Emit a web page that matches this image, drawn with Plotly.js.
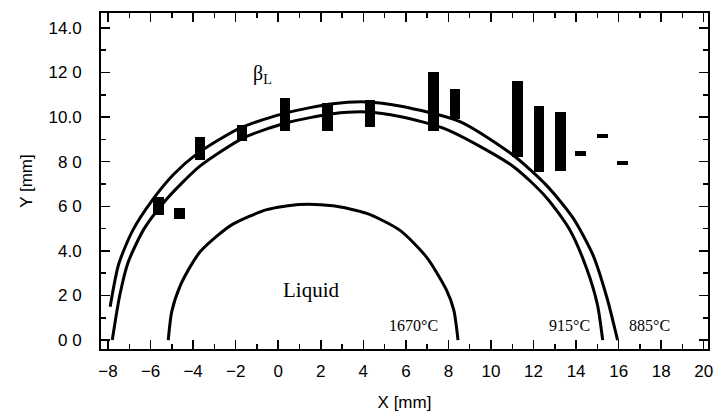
<!DOCTYPE html>
<html>
<head>
<meta charset="utf-8">
<script src="https://cdn.plot.ly/plotly-3.0.1.min.js"></script>
<style>html,body{margin:0;padding:0;background:#fff;}#chart{width:717px;height:417px;}</style>
</head>
<body>
<div id="chart"></div>
<script>
// 885°C isotherm (outer arc)
const outerX = [-7.9, -7.5, -6.85, -5.9, -4.9, -3.82, -1.8, 0.41, 2.57, 4.16, 5.71, 8.54, 11.03, 12.6, 13.84, 14.8, 15.45, 15.95];
const outerY = [1.5, 3.4, 4.9, 6.3, 7.45, 8.35, 9.51, 10.2, 10.6, 10.68, 10.5, 9.8, 8.3, 6.95, 5.5, 3.8, 1.9, 0.0];
// 915°C isotherm (inner arc)
const innerX = [-7.8, -7.45, -7.05, -6.3, -5.4, -4.52, -3.68, -1.65, 0.41, 2.57, 4.16, 5.71, 7.9, 11.03, 12.6, 13.7, 14.5, 15.0, 15.25];
const innerY = [0.0, 2.0, 3.5, 5.0, 6.15, 7.05, 7.8, 9.06, 9.75, 10.15, 10.23, 10.03, 9.45, 7.8, 6.4, 4.95, 3.2, 1.6, 0.0];
// 1670°C liquid boundary
const liqX = [-5.17, -5.0, -4.6, -4.1, -3.68, -2.9, -2.13, -0.54, 1.0, 2.57, 4.16, 5.71, 6.97, 7.91, 8.25, 8.45];
const liqY = [0.0, 1.3, 2.45, 3.35, 3.95, 4.65, 5.2, 5.85, 6.08, 6.02, 5.68, 4.93, 3.72, 2.24, 1.35, 0.0];
// measured beta_L extents (bars)
const barX    = [-5.64, -4.64, -3.68, -1.7, 0.32, 2.33, 4.31, 7.31, 8.3, 11.26, 12.25, 13.28, 14.22, 15.25, 16.19];
const barLow  = [5.61, 5.43, 8.08, 8.93, 9.38, 9.38, 9.56, 9.38, 9.91, 8.21, 7.54, 7.58, 8.25, 9.06, 7.85];
const barHigh = [6.42, 5.92, 9.11, 9.65, 10.86, 10.63, 10.77, 12.02, 11.26, 11.62, 10.5, 10.23, 8.48, 9.24, 8.03];
// ticks
const xTicks = [-8, -6, -4, -2, 0, 2, 4, 6, 8, 10, 12, 14, 16, 18, 20];
const xMinor = [-7, -5, -3, -1, 1, 3, 5, 7, 9, 11, 13, 15, 17, 19];
const yTicks = [0, 2, 4, 6, 8, 10, 12, 14];
const yTickText = ["0 0", "2 0", "4.0", "6 0", "8 0", "10.0", "12 0", "14.0"];
const yMinor = [1, 3, 5, 7, 9, 11, 13];
// labels
const labelText = ["β<sub>L</sub>", "Liquid", "1670°C", "915°C", "885°C"];
const labelX = [-0.75, 1.55, 6.37, 13.7, 17.45];
const labelY = [11.9, 2.24, 0.67, 0.67, 0.67];
const labelSize = [20, 21, 16, 16, 16];

const lineStyle = {color: 'black', width: 3, shape: 'spline', smoothing: 0.7};
const traces = [
  {type: 'scatter', mode: 'lines', x: outerX, y: outerY, line: lineStyle, hoverinfo: 'skip'},
  {type: 'scatter', mode: 'lines', x: innerX, y: innerY, line: lineStyle, hoverinfo: 'skip'},
  {type: 'scatter', mode: 'lines', x: liqX, y: liqY, line: lineStyle, hoverinfo: 'skip'},
  {type: 'bar', x: barX, base: barLow, y: barHigh.map((h, i) => h - barLow[i]), width: 0.5,
   marker: {color: 'black', line: {width: 0}}, hoverinfo: 'skip'}
];

const serif = 'Liberation Serif, Times New Roman, serif';
const annotations = labelText.map((t, i) => ({
  x: labelX[i], y: labelY[i], xref: 'x', yref: 'y', text: t, showarrow: false,
  font: {family: serif, size: labelSize[i], color: 'black'}
}));

const axisCommon = {
  showline: true, linewidth: 2, linecolor: 'black', mirror: 'ticks',
  ticks: 'inside', ticklen: 9, tickwidth: 1.5, tickcolor: 'black',
  showgrid: false, zeroline: false,
  tickfont: {family: 'Liberation Sans, Arial, sans-serif', size: 17, color: 'black'}
};

const layout = {
  width: 717, height: 417,
  margin: {l: 101, r: 9, t: 13, b: 68},
  paper_bgcolor: 'white', plot_bgcolor: 'white',
  showlegend: false,
  bargap: 0,
  xaxis: Object.assign({}, axisCommon, {
    range: [-8.33, 20.2], tickmode: 'array', tickvals: xTicks,
    ticklabelstandoff: 6,
    minor: {tickmode: 'array', tickvals: xMinor, ticks: 'inside', ticklen: 5, tickwidth: 1.5, tickcolor: 'black', showgrid: false},
    title: {text: 'X [mm]', font: {family: 'Liberation Sans, Arial, sans-serif', size: 17, color: 'black'}, standoff: 16}
  }),
  yaxis: Object.assign({}, axisCommon, {
    range: [-0.4, 14.67], tickmode: 'array', tickvals: yTicks, ticktext: yTickText,
    ticklabelstandoff: 14,
    minor: {tickmode: 'array', tickvals: yMinor, ticks: 'inside', ticklen: 5, tickwidth: 1.5, tickcolor: 'black', showgrid: false},
    title: {text: 'Y [mm]', font: {family: 'Liberation Sans, Arial, sans-serif', size: 17, color: 'black'}, standoff: 12}
  }),
  annotations: annotations
};

Plotly.newPlot('chart', traces, layout, {staticPlot: true, displayModeBar: false});
</script>
</body>
</html>
